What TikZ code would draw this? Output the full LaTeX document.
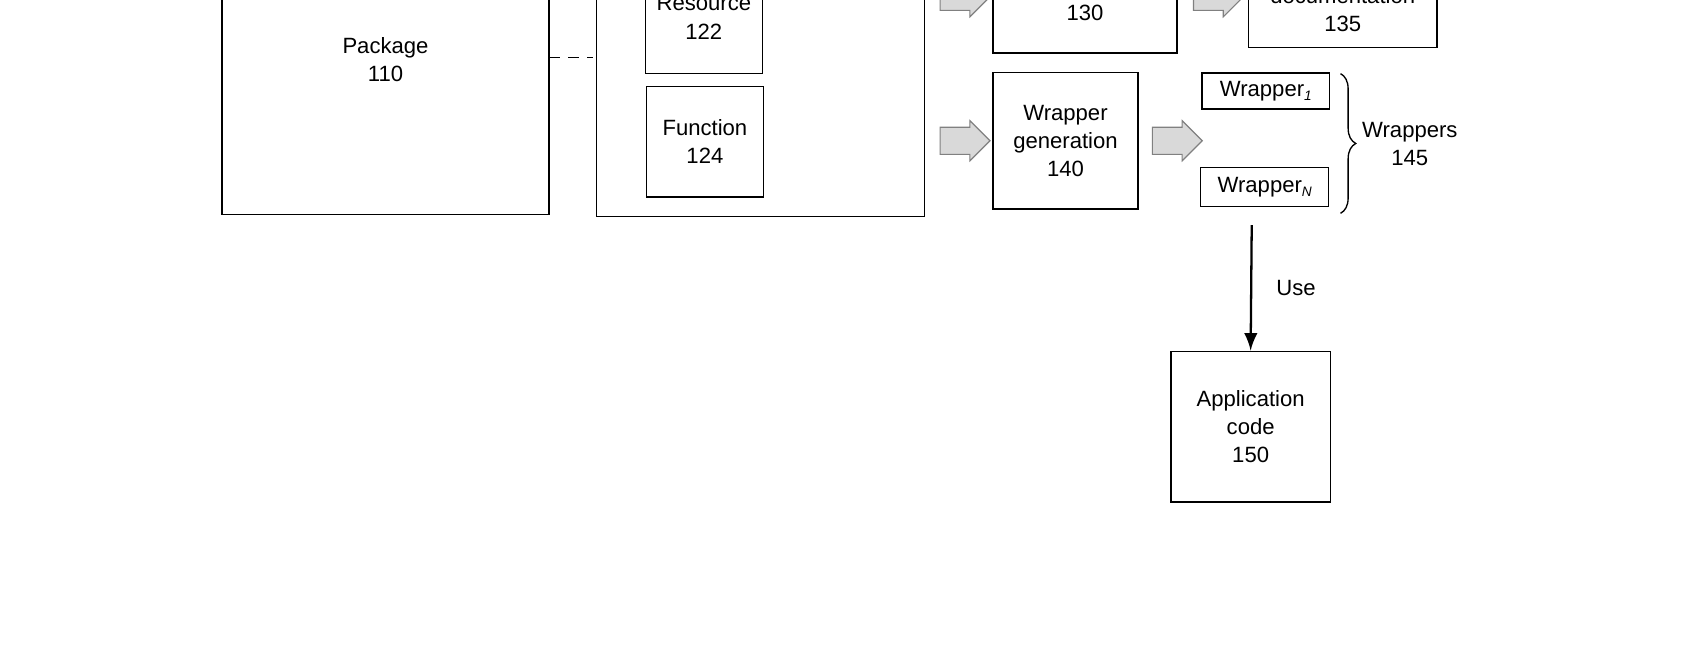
\documentclass[tikz,border=0pt]{standalone}
\usepackage{fontspec}
\setmainfont{Liberation Sans}
\usetikzlibrary{shapes.arrows,positioning,patterns,decorations.pathreplacing}
\newcommand{\wsub}[1]{\raisebox{-1pt}{\fontsize{3.6}{4}\selectfont\itshape #1}}

\begin{document}
\begin{tikzpicture}[
    x=0.01cm, y=-0.01cm,
    font=\fontsize{5.8}{7.4}\selectfont,
    box/.style={draw, line width=0.35pt, align=center, inner sep=0pt},
    txt/.style={align=center, inner sep=0pt},
    fat/.style={single arrow, draw=gray, line width=0.3pt, fill=gray!30,
        minimum height=0.46cm, inner xsep=0pt, inner ysep=0.12cm, single arrow head extend=0.06cm},
    arrow/.style={-latex, line width=0.6pt}
]
\useasboundingbox (0,0) rectangle (1570,600);
\clip (0,0) rectangle (1570,600);

% boxes cut by the top edge
\draw[line width=0.35pt] (205,-100) rectangle (507,198);
\node[txt] (package) at (356,55) {Package\\110};
\draw[line width=0.35pt] (551,-100) rectangle (854,200);
\draw[line width=0.35pt] (596,-100) rectangle (704,68);
\node[txt] (resource) at (650,16) {Resource\\122};
\draw[line width=0.35pt] (917,-100) rectangle (1087,49);
\node[txt] (analysis) at (1002,12) {130};
\draw[line width=0.35pt] (1153,-100) rectangle (1327,44);
\node[txt] (docs) at (1240,9) {documentation\\135};
\draw[dash pattern=on 3pt off 2pt, line width=0.35pt] (507,53) -- (548,53);

% boxes
\node[box, minimum width=1.08cm, minimum height=1.02cm] (function) at (651,131) {Function\\124};
\node[box, minimum width=1.34cm, minimum height=1.26cm] (wrapgen) at (984,130) {Wrapper\\generation\\140};
\node[box, minimum width=1.18cm, minimum height=0.33cm] (wrapone) at (1169,84) {Wrapper\wsub{1}};
\node[box, minimum width=1.18cm, minimum height=0.36cm] (wrapn) at (1168,173) {Wrapper\wsub{N}};
\node[box, minimum width=1.47cm, minimum height=1.39cm] (app) at (1155,394) {Application\\code\\150};

% fat arrows
\node[fat] (fa) at (885,-3) {};
\node[fat] (fb) at (885,130) {};
\node[fat] (fc) at (1081,130) {};
\node[fat] (fd) at (1119,-3) {};

% brace
\draw[decorate, decoration={brace, amplitude=4pt}, line width=0.35pt] (1238,68) -- (1238,197);
\node[txt] (wrappers) at (1302,133) {Wrappers\\145};

\coordinate (usestart) at (1156,208);
\draw[arrow] (usestart) -- (app.north) node[midway, right=3pt] {Use};
\end{tikzpicture}
\end{document}
